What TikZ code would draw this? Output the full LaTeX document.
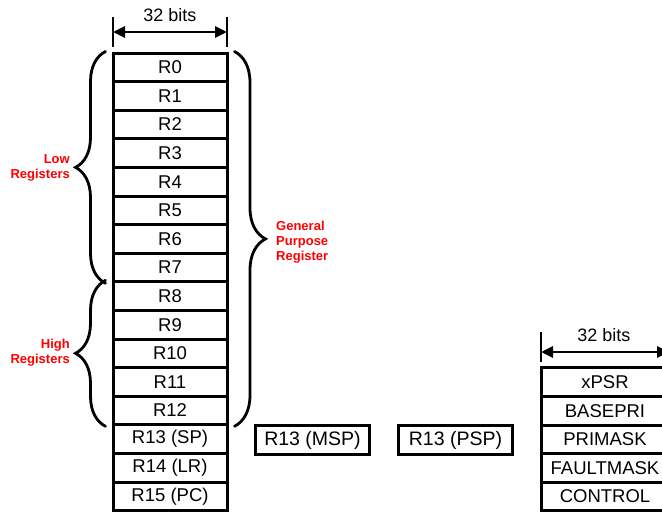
\documentclass[tikz,border=0pt]{standalone}
\usepackage{fontspec}
\setmainfont{Liberation Sans}
\usetikzlibrary{arrows.meta,decorations.pathreplacing}
\begin{document}
\begin{tikzpicture}[x=1pt,y=-1pt,
  reg/.style={draw,line width=3pt,minimum width=114pt,minimum height=28.6pt,inner sep=0pt,
    font=\fontsize{18.5}{20}\selectfont},
  sreg/.style={reg,minimum width=128pt},
  spbox/.style={draw,line width=3.4pt,minimum width=114pt,minimum height=29pt,inner sep=0pt,
    font=\fontsize{19.5}{21}\selectfont},
  lbl/.style={text=red,font=\bfseries\fontsize{13}{15}\selectfont,inner sep=0pt},
  brc/.style={decorate,decoration={brace,amplitude=30pt},line width=2.8pt,line cap=round},
  dim/.style={line width=2.8pt,{Triangle[length=12pt,width=11pt]}-{Triangle[length=12pt,width=11pt]}},
  tick/.style={line width=2.8pt},
  dimtxt/.style={font=\fontsize{18}{20}\selectfont,inner sep=0pt}]
\useasboundingbox (0,0) rectangle (662,512);
\clip (0,0) rectangle (662,512);
\fill[white] (0,0) rectangle (662,512);
% main register column
\foreach \t [count=\i from 0] in {R0,R1,R2,R3,R4,R5,R6,R7,R8,R9,R10,R11,R12,R13 (SP),R14 (LR),R15 (PC)}
  \node[reg] (r\i) at (170,{67.3+\i*28.6}) {\t};
% top dimension
\coordinate (ta1) at (113,17); \coordinate (tb1) at (113,47);
\coordinate (ta2) at (227,17); \coordinate (tb2) at (227,47);
\draw[tick] (ta1) -- (tb1);
\draw[tick] (ta2) -- (tb2);
\coordinate (da1) at (113,32); \coordinate (da2) at (227,32);
\draw[dim] (da1) -- (da2);
\node[dimtxt] (bits1) at (170,15) {32 bits};
% braces
\draw[brc] ([xshift=-6pt]r7.south west) -- ([xshift=-6pt]r0.north west);
\draw[brc] ([xshift=-6pt]r12.south west) -- ([xshift=-6pt]r8.north west);
\draw[brc,decoration={amplitude=31pt}] ([xshift=6pt]r0.north east) -- ([xshift=6pt]r12.south east);
\node[lbl,align=right,anchor=east] (low) at (70,167.5) {Low\\Registers};
\node[lbl,align=right,anchor=east] (high) at (70,352.5) {High\\Registers};
\node[lbl,align=left,anchor=west] (gpr) at (276,242.5) {General\\Purpose\\Register};
% banked SP
\node[spbox] (msp) at (312.5,440) {R13 (MSP)};
\node[spbox] (psp) at (455.5,440) {R13 (PSP)};
% special registers
\foreach \t [count=\i from 0] in {xPSR,BASEPRI,PRIMASK,FAULTMASK,CONTROL}
  \node[sreg] (s\i) at (605,{382.1+\i*28.6}) {\t};
\coordinate (sa1) at (541,332); \coordinate (sb1) at (541,362);
\coordinate (sa2) at (669,332); \coordinate (sb2) at (669,362);
\draw[tick] (sa1) -- (sb1);
\draw[tick] (sa2) -- (sb2);
\coordinate (sd1) at (541,352); \coordinate (sd2) at (669,352);
\draw[dim] (sd1) -- (sd2);
\node[dimtxt] (bits2) at (604,335) {32 bits};
\end{tikzpicture}
\end{document}
